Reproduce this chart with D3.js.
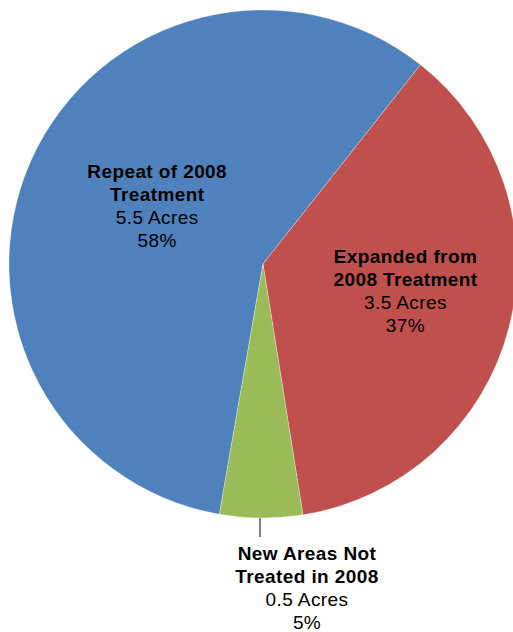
<!DOCTYPE html>
<html>
<head>
<meta charset="utf-8">
<script src="https://cdn.jsdelivr.net/npm/d3@7"></script>
<style>
  body { margin: 0; background: #fff; }
  text { font-family: "Liberation Sans", Arial, sans-serif; }
</style>
</head>
<body>
<script>
// chart data
var names = ["Repeat of 2008 Treatment", "Expanded from 2008 Treatment", "New Areas Not Treated in 2008"];
var nameLines = [["Repeat of 2008", "Treatment"], ["Expanded from", "2008 Treatment"], ["New Areas Not", "Treated in 2008"]];
var acres = [5.5, 3.5, 0.5];
var colors = ["#4F81BD", "#C0504D", "#9BBB59"];

var w = 513, h = 632;
var cx = 263, cy = 264, r = 254;

var svg = d3.select("body").append("svg")
    .attr("width", w)
    .attr("height", h);

var total = d3.sum(acres);
var rows = acres.map(function (d, i) { return { name: names[i], lines: nameLines[i], value: d, i: i }; });

// first slice starts so the red one begins at ~38 deg
var start = -170.1 * Math.PI / 180;
var pie = d3.pie().sort(null).value(function (d) { return d.value; })
    .startAngle(start).endAngle(start + 2 * Math.PI);
var arc = d3.arc().innerRadius(0).outerRadius(r);

var g = svg.append("g").attr("transform", "translate(" + cx + "," + cy + ")");
var arcs = pie(rows);

g.selectAll("path.slice")
    .data(arcs)
    .enter()
    .append("path")
    .classed("slice", true)
    .attr("d", arc)
    .style("fill", function (d) { return colors[d.data.i]; })
    .style("stroke", "#fff")
    .style("stroke-width", 0.3);

// label positions: inside for the big two, outside with leader for the small one
var labelPos = [];
labelPos[0] = (function () { var c = d3.arc().innerRadius(0).outerRadius(r * 0.93).centroid(arcs[0]); return [c[0] + 2, c[1] - 10]; })();
labelPos[1] = (function () { var c = d3.arc().innerRadius(0).outerRadius(r * 1.2).centroid(arcs[1]); return [c[0] - 5, c[1] - 12]; })();
labelPos[2] = [307 - cx, 588 - cy];

// leader line for small slice
g.append("line")
    .attr("x1", -3).attr("y1", r)
    .attr("x2", -3).attr("y2", 537 - cy)
    .style("stroke", "#000")
    .style("stroke-width", 1);

var lab = g.selectAll("g.lab")
    .data(arcs)
    .enter()
    .append("g")
    .classed("lab", true)
    .attr("transform", function (d) { var p = labelPos[d.data.i]; return "translate(" + p[0] + "," + p[1] + ")"; });

lab.each(function (d) {
    var t = d3.select(this).append("text")
        .attr("text-anchor", "middle")
        .style("font-size", "19px")
        .style("fill", "#000");
    var lines = d.data.lines.concat([d.data.value + " Acres", Math.round(d.data.value / total * 100) + "%"]);
    lines.forEach(function (s, k) {
        t.append("tspan")
            .attr("x", 0)
            .attr("y", k * 23 - 28)
            .style("font-weight", k < 2 ? "bold" : "normal")
            .style("letter-spacing", "0.4px")
            .text(s);
    });
});
</script>
</body>
</html>
